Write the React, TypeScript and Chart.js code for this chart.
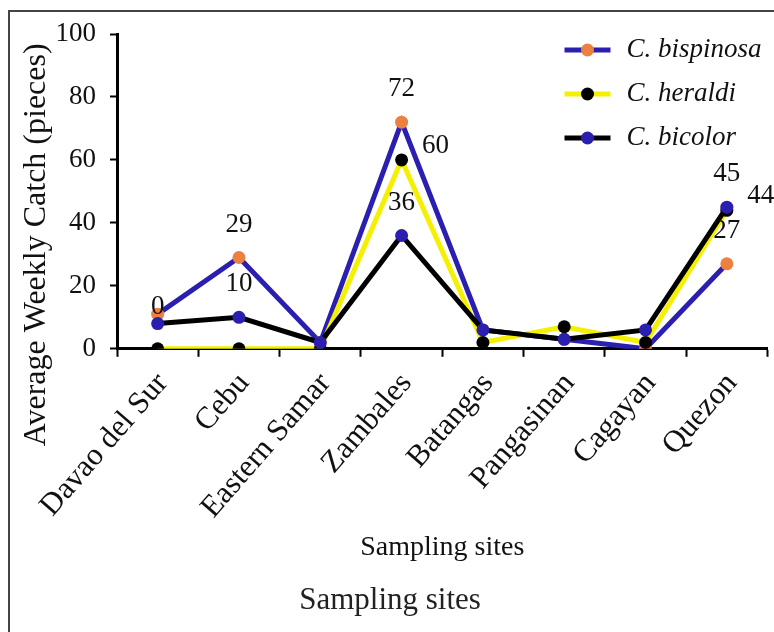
import React, { useEffect, useRef } from "react";
import { Chart, registerables } from "chart.js";

Chart.register(...registerables);

const sites = ["Davao del Sur", "Cebu", "Eastern Samar", "Zambales", "Batangas", "Pangasinan", "Cagayan", "Quezon"];
const bispinosa = [11, 29, 2, 72, 6, 3, 0, 27];
const heraldi = [0, 0, 0, 60, 2, 7, 2, 44];
const bicolor = [8, 10, 2, 36, 6, 3, 6, 45];
const yTicks = [0, 20, 40, 60, 80, 100];
const seriesNames = ["C. bispinosa", "C. heraldi", "C. bicolor"];
// indices of points that carry a value label, per series
const bispinosaLabelled = [1, 3, 7];
const heraldiLabelled = [0, 3, 7];
const bicolorLabelled = [1, 3, 7];

const BLUE = "#2b1fb0";
const ORANGE = "#ec8040";
const YELLOW = "#f4f000";
const BLACK = "#000000";
const SERIF = '"Liberation Serif", "Times New Roman", serif';

const valueLabels = {
  id: "valueLabels",
  afterDatasetsDraw(chart: any) {
    const ctx = chart.ctx;
    ctx.save();
    ctx.font = `27px ${SERIF}`;
    ctx.fillStyle = "#111";
    ctx.textAlign = "center";
    ctx.textBaseline = "middle";
    const sets: [number, number[], number[]][] = [
      [0, bispinosaLabelled, bispinosa],
      [1, heraldiLabelled, heraldi],
      [2, bicolorLabelled, bicolor],
    ];
    sets.forEach(([di, idxs, vals]) => {
      const meta = chart.getDatasetMeta(di);
      idxs.forEach((i) => {
        const el = meta.data[i];
        if (!el) return;
        let dx = 0;
        let dy = -33;
        if (di === 1) {
          if (i === 0) { dx = 0; dy = -42; } else { dx = 34; dy = -14; }
        }
        ctx.fillText(String(vals[i]), el.x + dx, el.y + dy);
      });
    });
    ctx.restore();
  },
};

const customLegend = {
  id: "customLegend",
  afterDraw(chart: any) {
    const ctx = chart.ctx;
    const { right, top } = chart.chartArea;
    const styles = [
      { line: BLUE, dot: ORANGE },
      { line: YELLOW, dot: BLACK },
      { line: BLACK, dot: BLUE },
    ];
    ctx.save();
    seriesNames.forEach((name, i) => {
      const y = top + 16 + i * 44;
      ctx.strokeStyle = styles[i].line;
      ctx.lineWidth = 5;
      ctx.beginPath();
      ctx.moveTo(right - 203, y);
      ctx.lineTo(right - 157, y);
      ctx.stroke();
      ctx.fillStyle = styles[i].dot;
      ctx.beginPath();
      ctx.arc(right - 180, y, 6.5, 0, Math.PI * 2);
      ctx.fill();
      ctx.fillStyle = "#111";
      ctx.font = `italic 27px ${SERIF}`;
      ctx.textAlign = "left";
      ctx.textBaseline = "middle";
      ctx.fillText(name, right - 141, y);
    });
    ctx.restore();
  },
};

const yTitle = {
  id: "yTitle",
  afterDraw(chart: any) {
    const ctx = chart.ctx;
    const { left, bottom } = chart.chartArea;
    ctx.save();
    ctx.translate(left - 80, bottom - 104);
    ctx.rotate(-Math.PI / 2);
    ctx.font = `32px ${SERIF}`;
    ctx.fillStyle = "#111";
    ctx.textAlign = "center";
    ctx.textBaseline = "middle";
    ctx.fillText("Average Weekly Catch (pieces)", 0, 0);
    ctx.restore();
  },
};

export default function App() {
  const ref = useRef<HTMLCanvasElement | null>(null);
  useEffect(() => {
    document.body.style.margin = "0";
    if (!ref.current) return;
    const chart = new Chart(ref.current, {
      type: "line",
      data: {
        labels: sites,
        datasets: [
          {
            label: seriesNames[0],
            data: bispinosa,
            borderColor: BLUE,
            borderWidth: 5,
            pointBackgroundColor: ORANGE,
            pointBorderWidth: 0,
            pointRadius: 6.5,
            tension: 0,
            order: 2,
          },
          {
            label: seriesNames[1],
            data: heraldi,
            borderColor: YELLOW,
            borderWidth: 5,
            pointBackgroundColor: BLACK,
            pointBorderWidth: 0,
            pointRadius: 6.5,
            tension: 0,
            order: 1,
          },
          {
            label: seriesNames[2],
            data: bicolor,
            borderColor: BLACK,
            borderWidth: 5,
            pointBackgroundColor: BLUE,
            pointBorderWidth: 0,
            pointRadius: 6.5,
            tension: 0,
            order: 0,
          },
        ],
      },
      options: {
        responsive: false,
        animation: false,
        layout: { padding: { left: 0, right: 4, top: 22, bottom: 0 } },
        plugins: {
          legend: { display: false },
          tooltip: { enabled: false },
          title: {
            display: true,
            position: "bottom",
            text: "Sampling sites",
            color: "#222",
            font: { family: SERIF, size: 31, weight: "normal" },
            padding: { top: 0, bottom: 13 },
          },
        },
        scales: {
          x: {
            offset: true,
            grid: {
              offset: true,
              drawOnChartArea: false,
              drawTicks: true,
              tickLength: 8,
              tickWidth: 2,
              tickColor: BLACK,
            },
            border: { display: true, color: BLACK, width: 3 },
            ticks: {
              color: "#111",
              font: { family: SERIF, size: 31 },
              minRotation: 49,
              maxRotation: 49,
              autoSkip: false,
              padding: 9,
              labelOffset: 5,
            },
            title: {
              display: true,
              text: "Sampling sites",
              color: "#111",
              font: { family: SERIF, size: 28 },
              padding: { top: 0, bottom: 17 },
            },
            afterFit(scale: any) {
              scale.height = 233;
            },
          },
          y: {
            min: 0,
            max: 100,
            afterBuildTicks(scale: any) {
              scale.ticks = yTicks.map((v) => ({ value: v }));
            },
            grid: {
              drawOnChartArea: false,
              drawTicks: true,
              tickLength: 7,
              tickWidth: 2,
              tickColor: BLACK,
            },
            border: { display: true, color: BLACK, width: 3 },
            ticks: {
              color: "#111",
              font: { family: SERIF, size: 27 },
              padding: 14,
            },
            title: { display: false },
            afterFit(scale: any) {
              scale.width = 107;
              scale.paddingTop = 0;
              scale.paddingBottom = 0;
            },
          },
        },
      },
      plugins: [valueLabels, customLegend, yTitle],
    });
    return () => chart.destroy();
  }, []);
  return (
    <div
      style={{
        position: "absolute",
        left: 8,
        top: 10,
        width: 766,
        height: 622,
        borderLeft: "2px solid #444",
        borderTop: "2px solid #444",
        boxSizing: "border-box",
        overflow: "hidden",
      }}
    >
      <canvas ref={ref} width={764} height={620} style={{ display: "block" }} />
    </div>
  );
}
